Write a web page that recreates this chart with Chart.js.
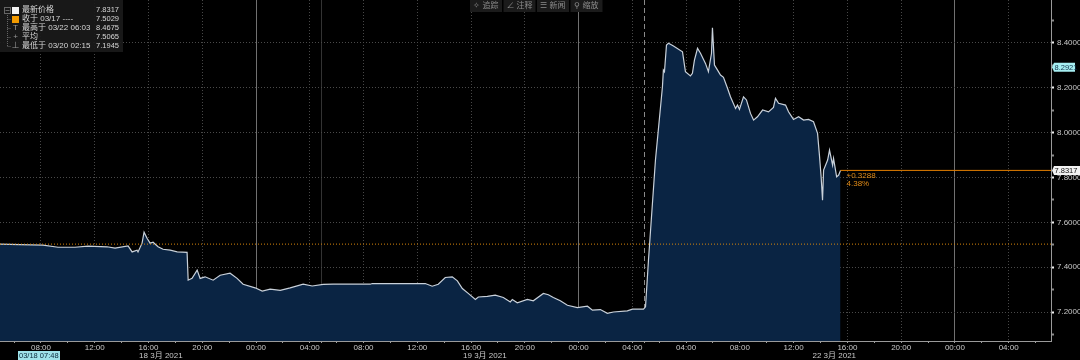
<!DOCTYPE html>
<html>
<head>
<meta charset="utf-8">
<script src="https://cdn.jsdelivr.net/npm/chart.js@4.4.1/dist/chart.umd.min.js"></script>
<style>
html, body { margin: 0; background: #000; }
#wrap { width: 1080px; height: 360px; position: relative; }
</style>
</head>
<body>
<div id="wrap"><canvas id="c"></canvas></div>
<script>
// trading clock in hours: 0 = 03/18 00:00, weekend cut out (Mon 22 00:00 -> 52)
const times = [
  4.95, 6.44, 8.15, 9.27, 10.53, 11.5, 12.91, 13.51, 14.48, 14.78, 15.15, 15.22, 15.52, 15.67, 15.89,
  16.12, 16.34, 16.71, 17.08, 17.61, 18.13, 18.87, 18.95, 19.24, 19.62, 19.84, 20.21, 20.81, 21.33,
  22.07, 22.59, 23.04, 23.93, 24.46, 25.05, 25.8, 26.54, 27.51, 28.18, 29.0, 29.74, 32.5, 32.65,
  34.95, 36.59, 37.11, 37.56, 38.08, 38.6, 38.98, 39.35, 39.79, 40.32, 40.54, 41.21, 41.8, 42.4,
  42.92, 43.07, 43.44, 44.19, 44.63, 45.38, 45.75, 46.12, 46.64, 47.17, 47.91, 48.66, 49.03, 49.62,
  50.14, 50.59, 51.63, 52.01, 52.83, 52.98, 53.2, 53.72, 54.24, 54.31, 54.39, 54.54, 54.69, 55.06,
  55.73, 55.95, 56.32, 56.47, 56.62, 56.85, 57.07, 57.44, 57.66, 57.89, 57.96, 58.11, 58.34, 58.56,
  58.78, 59.08, 59.3, 59.68, 59.82, 59.97, 60.27, 60.49, 60.79, 61.02, 61.31, 61.69, 62.13, 62.5,
  62.65, 62.88, 63.4, 63.62, 63.99, 64.37, 64.74, 65.11, 65.48, 65.78, 65.92, 66.05, 66.15, 66.23,
  66.53, 66.67, 66.9, 66.97, 67.2, 67.35, 67.49
];
const prices = [
  7.503, 7.501, 7.498, 7.489, 7.489, 7.494, 7.491, 7.485, 7.495, 7.468, 7.476, 7.468, 7.507, 7.556, 7.529,
  7.507, 7.511, 7.491, 7.48, 7.476, 7.468, 7.466, 7.342, 7.35, 7.387, 7.35, 7.357, 7.342, 7.364,
  7.373, 7.35, 7.324, 7.308, 7.293, 7.302, 7.297, 7.308, 7.324, 7.316, 7.323, 7.324, 7.324, 7.327,
  7.327, 7.327, 7.315, 7.324, 7.354, 7.357, 7.339, 7.305, 7.283, 7.256, 7.267, 7.27, 7.275, 7.265,
  7.245, 7.256, 7.241, 7.256, 7.25, 7.283, 7.277, 7.265, 7.25, 7.23, 7.22, 7.226, 7.208, 7.211,
  7.1945, 7.2, 7.205, 7.213, 7.213, 7.223, 7.431, 7.878, 8.205, 8.279, 8.272, 8.391, 8.399, 8.387,
  8.361, 8.272, 8.253, 8.265, 8.324, 8.376, 8.354, 8.309, 8.272, 8.354, 8.4675, 8.302, 8.279, 8.257,
  8.247, 8.198, 8.16, 8.108, 8.123, 8.104, 8.16, 8.146, 8.086, 8.056, 8.071, 8.101, 8.093, 8.113,
  8.153, 8.131, 8.123, 8.093, 8.059, 8.071, 8.056, 8.059, 8.049, 7.997, 7.9, 7.8, 7.699, 7.833,
  7.878, 7.922, 7.855, 7.885, 7.803, 7.811, 7.8317
];

const prevClose = 7.5029;
const lastPrice = 7.8317;
const cursorPrice = 8.2921;
const changeText = ['+0.3288', '4.38%'];

const tickHours = [8, 12, 16, 20, 24, 28, 32, 36, 40, 44, 48, 52, 56, 60, 64, 68, 72, 76, 80];
const tickLabels = ['08:00', '12:00', '16:00', '20:00', '00:00', '04:00', '08:00', '12:00', '16:00', '20:00',
  '00:00', '04:00', '04:00', '08:00', '12:00', '16:00', '20:00', '00:00', '04:00'];
const dayStarts = [24, 48, 76];
const sessionStart = [28.9];
const weekendBreak = [52.9];
const dateHours = [15.3, 39.4, 65.4];
const dateLabels = ['18 3月 2021', '19 3月 2021', '22 3月 2021'];

const legendNames = ['最新价格', '收于 03/17 ----', '最高于 03/22 06:03', '平均', '最低于 03/20 02:15'];
const legendValues = ['7.8317', '7.5029', '8.4675', '7.5065', '7.1945'];
const toolButtons = ['✧ 追踪', '∠ 注释', '☰ 新闻', '⚲ 缩放'];

const xMin = 4.95, xMax = 83.15;
const yMin = 7.0707, yMax = 8.5918;

const FONT = '"Liberation Sans", "Noto Sans CJK SC", sans-serif';

const minorX = tickHours.map(h => h - 2).concat([82]);
const allXTicks = tickHours.concat(minorX, sessionStart, weekendBreak).sort((a, b) => a - b);

function has(list, v) {
  return list.some(h => Math.abs(h - v) < 0.01);
}
function isMajorY(v) {
  const k = Math.round(v * 10);
  return k % 2 === 0 && k >= 72 && k <= 84;
}

const overlay = {
  id: 'overlay',
  afterDraw(chart) {
    const ctx = chart.ctx;
    const xs = chart.scales.x, ys = chart.scales.y;
    const area = chart.chartArea;
    ctx.save();

    // date row under the time labels
    ctx.fillStyle = '#c8c8c8';
    ctx.font = '8px ' + FONT;
    ctx.textBaseline = 'middle';
    ctx.textAlign = 'left';
    dateLabels.forEach((t, i) => ctx.fillText(t, xs.getPixelForValue(dateHours[i]), 355.5));

    // cursor time stamp
    ctx.fillStyle = '#9fe3ea';
    ctx.fillRect(18, 351, 42, 9);
    ctx.fillStyle = '#0b2a3c';
    ctx.font = '7.5px ' + FONT;
    ctx.fillText('03/18 07:48', 19, 356);

    // change vs previous close
    const lx = xs.getPixelForValue(times[times.length - 1]) + 6;
    const ly = ys.getPixelForValue(lastPrice);
    ctx.font = '8px ' + FONT;
    ctx.fillStyle = '#e08a16';
    ctx.fillText(changeText[0], lx, ly + 5);
    ctx.fillText(changeText[1], lx, ly + 13);

    // price boxes on the right axis
    const box = (v, bg, fg, w) => {
      const y = ys.getPixelForValue(v);
      ctx.fillStyle = bg;
      ctx.beginPath();
      ctx.moveTo(area.right + 1, y);
      ctx.lineTo(area.right + 3, y - 4.5);
      ctx.lineTo(area.right + 3 + w, y - 4.5);
      ctx.lineTo(area.right + 3 + w, y + 4.5);
      ctx.lineTo(area.right + 3, y + 4.5);
      ctx.closePath();
      ctx.fill();
      ctx.fillStyle = fg;
      ctx.font = '7.5px ' + FONT;
      ctx.textAlign = 'left';
      ctx.fillText(v.toFixed(4), area.right + 3.5, y + 0.5);
    };
    box(cursorPrice, '#a6eef2', '#10324a', 21);
    box(lastPrice, '#f2f2f2', '#111', 26);

    // legend panel
    ctx.fillStyle = 'rgba(26,26,26,0.92)';
    ctx.fillRect(0, 0, 123, 52);
    ctx.strokeStyle = '#666';
    ctx.lineWidth = 1;
    ctx.setLineDash([1, 1]);
    ctx.beginPath();
    ctx.moveTo(7.5, 13); ctx.lineTo(7.5, 47);
    [19, 28, 37, 46].forEach(y => { ctx.moveTo(7.5, y + 0.5); ctx.lineTo(11, y + 0.5); });
    ctx.stroke();
    ctx.setLineDash([]);
    ctx.strokeRect(4.5, 7.5, 6, 6);
    ctx.beginPath(); ctx.moveTo(5.5, 10.5); ctx.lineTo(9.5, 10.5); ctx.stroke();
    ctx.fillStyle = '#f4f4f4';
    ctx.fillRect(12, 7, 7, 7);
    ctx.fillStyle = '#f29a00';
    ctx.fillRect(12, 16, 7, 7);
    ctx.fillStyle = '#9a9a9a';
    ctx.font = '8px ' + FONT;
    ctx.textAlign = 'center';
    ctx.fillText('T', 15.5, 28);
    ctx.fillText('+', 15.5, 37);
    ctx.fillText('⊥', 15.5, 46);
    legendNames.forEach((t, i) => {
      const y = 10 + i * 9;
      ctx.fillStyle = '#d6d6d6';
      ctx.textAlign = 'left';
      ctx.font = '8px ' + FONT;
      ctx.fillText(t, 22, y);
      ctx.textAlign = 'right';
      ctx.font = '7.5px ' + FONT;
      ctx.fillText(legendValues[i], 119, y);
    });

    // toolbar
    ctx.font = '8px ' + FONT;
    ctx.textAlign = 'center';
    toolButtons.forEach((t, i) => {
      const x0 = 470 + i * 33.5;
      ctx.fillStyle = '#1b1b1b';
      ctx.fillRect(x0, 0, 32, 12);
      ctx.fillStyle = '#8c8c8c';
      ctx.fillText(t, x0 + 16, 6);
    });
    ctx.restore();
  }
};

new Chart(document.getElementById('c'), {
  type: 'line',
  data: {
    datasets: [
      {
        data: [{ x: xMin, y: prevClose }, { x: xMax, y: prevClose }],
        borderColor: '#d9860b', borderWidth: 1, borderDash: [1, 2],
        pointRadius: 0, fill: false
      },
      {
        data: [{ x: times[times.length - 1], y: lastPrice }, { x: xMax, y: lastPrice }],
        borderColor: '#e37f00', borderWidth: 1,
        pointRadius: 0, fill: false
      },
      {
        data: times.map((t, i) => ({ x: t, y: prices[i] })),
        borderColor: '#c9d1da', borderWidth: 1.2,
        backgroundColor: '#0a2443', fill: 'start',
        pointRadius: 0, tension: 0
      }
    ]
  },
  options: {
    responsive: true,
    maintainAspectRatio: false,
    animation: false,
    layout: { padding: 0 },
    plugins: { legend: { display: false }, tooltip: { enabled: false } },
    scales: {
      x: {
        type: 'linear', min: xMin, max: xMax, z: 1,
        afterBuildTicks: s => { s.ticks = allXTicks.map(v => ({ value: v })); },
        afterFit: s => { s.height = 19; s.paddingLeft = 0; s.paddingRight = 0; },
        ticks: {
          autoSkip: false, maxRotation: 0, padding: 0,
          color: '#c8c8c8', font: { family: FONT, size: 8 },
          callback: v => {
            const i = tickHours.findIndex(h => Math.abs(h - v) < 0.01);
            return i < 0 ? '' : tickLabels[i];
          }
        },
        grid: {
          color: ctx => {
            const v = ctx.tick ? ctx.tick.value : 0;
            if (has(dayStarts, v)) return '#707070';
            if (has(weekendBreak, v)) return '#8a8a8a';
            if (has(sessionStart, v)) return '#333333';
            if (has(tickHours, v)) return '#474747';
            return 'rgba(0,0,0,0)';
          },
          tickColor: '#a0a0a0', tickLength: 2, lineWidth: 1
        },
        border: {
          color: '#9a9a9a',
          dash: ctx => {
            if (!ctx.tick) return [];
            const v = ctx.tick.value;
            if (has(dayStarts, v) || has(sessionStart, v)) return [];
            if (has(weekendBreak, v)) return [5, 3];
            return [1, 2];
          }
        }
      },
      y: {
        position: 'right', min: yMin, max: yMax, z: 1,
        afterBuildTicks: s => {
          const t = [];
          for (let k = 71; k <= 85; k++) t.push({ value: k / 10 });
          s.ticks = t;
        },
        afterFit: s => { s.width = 29; s.paddingTop = 0; s.paddingBottom = 0; },
        ticks: {
          autoSkip: false, padding: 3,
          color: '#c8c8c8', font: { family: FONT, size: 8 },
          callback: v => isMajorY(v) ? v.toFixed(4) : ''
        },
        grid: {
          color: ctx => (ctx.tick && isMajorY(ctx.tick.value)) ? '#4a4a4a' : 'rgba(0,0,0,0)',
          tickColor: ctx => (ctx.tick && isMajorY(ctx.tick.value)) ? '#f0f0f0' : '#8a8a8a',
          tickLength: 3, tickWidth: 2, lineWidth: 1
        },
        border: { color: '#9a9a9a', dash: ctx => ctx.tick ? [1, 2] : [] }
      }
    }
  },
  plugins: [overlay]
});
</script>
</body>
</html>
